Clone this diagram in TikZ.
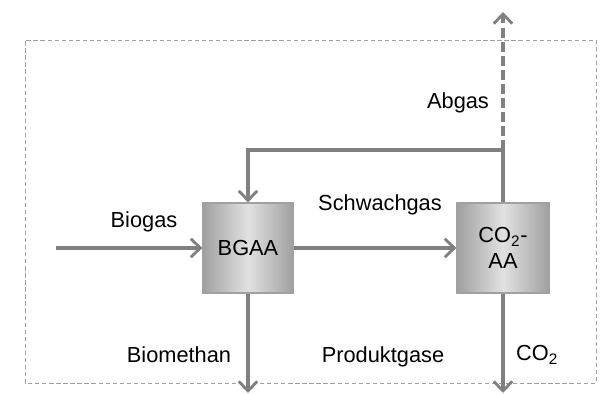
\documentclass[tikz,border=0pt]{standalone}
\usepackage{fontspec}
\setmainfont{Liberation Sans}
\usepackage{xcolor}
\usetikzlibrary{arrows.meta, positioning, calc}
\definecolor{flowgray}{RGB}{128, 128, 128}
\definecolor{boxedge}{RGB}{160, 160, 160}
\definecolor{boxdark}{RGB}{160, 160, 160}
\definecolor{boxlite}{RGB}{225, 225, 225}
\tikzset{
  unit/.style={rectangle, draw=boxedge, line width=0.8pt, left color=boxdark,
               right color=boxdark, middle color=boxlite, minimum width=#1,
               minimum height=2.25cm, align=center, inner sep=0pt, text=black},
  unit/.default=2.25cm,
  flow/.style={-{Straight Barb[length=2.4mm, width=4.6mm, line width=2pt]},
               line width=2.2pt, color=flowgray},
  pipe/.style={line width=2.2pt, color=flowgray},
  lbl/.style={font=\fontsize{15.5}{18}\selectfont, inner sep=0pt},
}
\begin{document}
\begin{tikzpicture}
        \useasboundingbox (0, 0) rectangle (15, 9.875);
        % Bilanzgrenze
        \draw[boxedge, densely dashed, line width=0.6pt] (0.625, 0.3) rectangle (14.9, 8.875);

        % Anlagen
        \node[unit, lbl] (bgaa) at (6.2, 3.675) {BGAA};
        \node[unit=2.3cm, lbl] (co2aa) at (12.575, 3.675) {CO\textsubscript{2}-\\AA};

        % Ein- und Ausgaenge
        \coordinate (in) at (1.4, 3.675);
        \coordinate (loop) at (12.575, 6.125);
        \coordinate (exhaust) at (12.575, 9.575);
        \coordinate (outch4) at (6.2, 0.05);
        \coordinate (outco2) at (12.575, 0.05);

        \draw[flow] (in) -- (bgaa.west);
        \draw[flow] (bgaa.east) -- (co2aa.west);
        \draw[pipe] (co2aa.north) -- (loop);
        \draw[flow] (loop) -- (bgaa.north |- loop) -- (bgaa.north);
        \draw[flow, dash pattern=on 7pt off 3pt] (loop) -- (exhaust);
        \draw[flow] (bgaa.south) -- (outch4);
        \draw[flow] (co2aa.south) -- (outco2);

        % Beschriftungen
        \node[lbl] (biogas) at (3.6, 4.325) {Biogas};
        \node[lbl] (schwach) at (9.5, 4.75) {Schwachgas};
        \node[lbl] (abgas) at (11.45, 7.3) {Abgas};
        \node[lbl] (biomethan) at (4.475, 1.0) {Biomethan};
        \node[lbl] (produkt) at (9.575, 0.95) {Produktgase};
        \node[lbl] (co2) at (13.425, 1.0) {CO\textsubscript{2}};
\end{tikzpicture}
\end{document}
